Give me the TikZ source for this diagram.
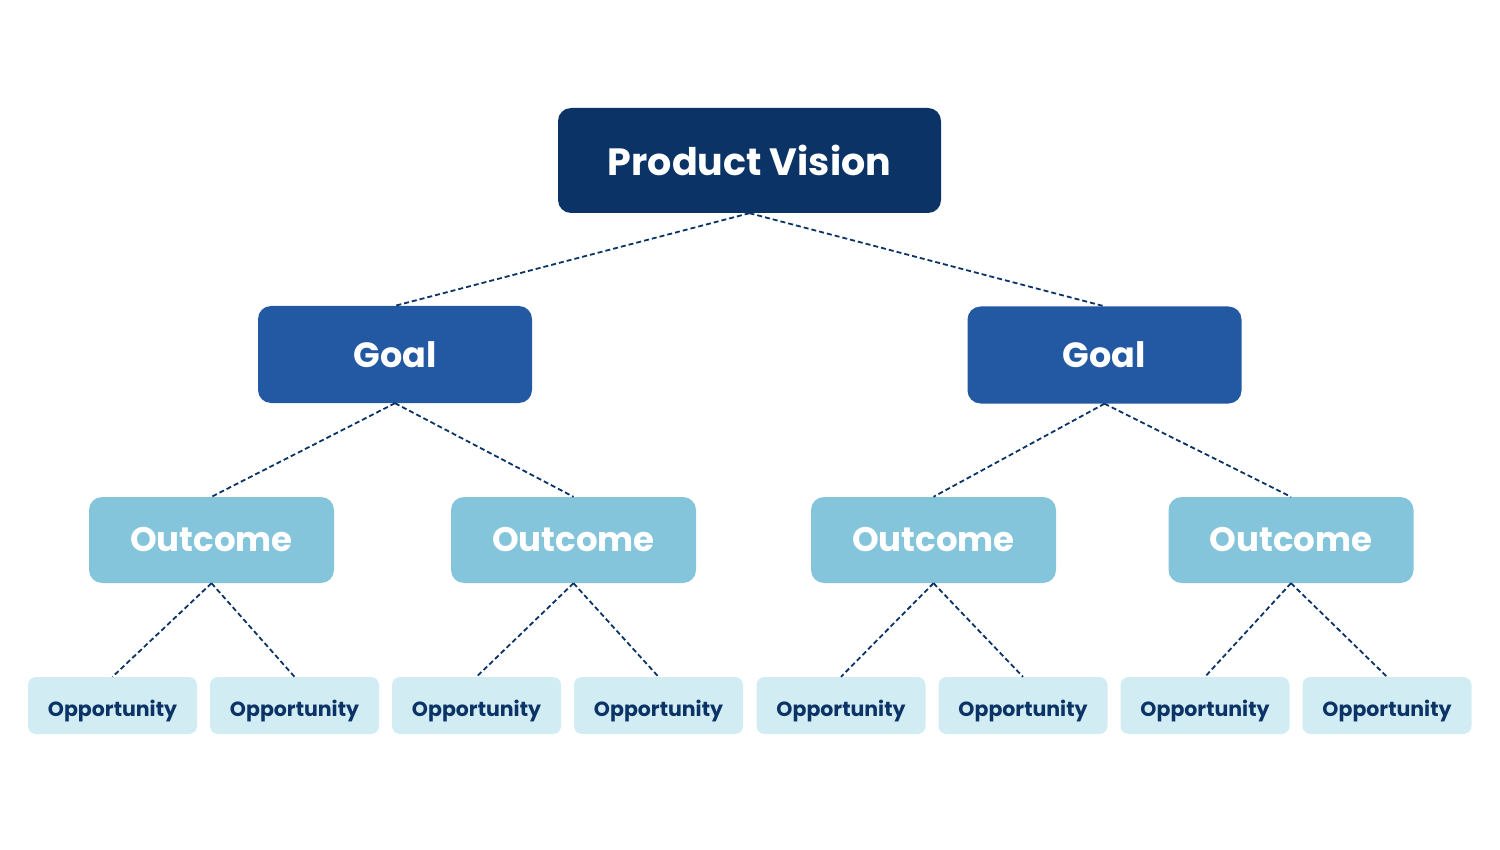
\documentclass[tikz,border=0pt]{standalone}
\usepackage{fontspec}
\setmainfont{Poppins}
\definecolor{navy}{HTML}{0B3366}
\definecolor{goalc}{HTML}{2358A3}
\definecolor{outc}{HTML}{84C5DC}
\definecolor{oppc}{HTML}{D2ECF4}
\begin{document}
\begin{tikzpicture}[x=1pt,y=-1pt,
  box/.style={rounded corners=13pt, inner sep=0pt, font=\bfseries},
  vis/.style={box, fill=navy, text=white, minimum width=383pt, minimum height=105pt, font=\fontsize{38}{40}\selectfont\bfseries},
  goalbox/.style={box, fill=goalc, text=white, minimum width=274pt, minimum height=97pt, font=\fontsize{35}{40}\selectfont\bfseries},
  outbox/.style={box, fill=outc, text=white, minimum width=245pt, minimum height=86pt, font=\fontsize{34}{40}\selectfont\bfseries},
  oppbox/.style={box, rounded corners=8pt, fill=oppc, text=navy, minimum width=169pt, minimum height=57pt, font=\fontsize{20.5}{22}\selectfont\bfseries},
  link/.style={draw=navy, line width=1.8pt, dash pattern=on 5pt off 3pt}
]
\path[use as bounding box] (0,0) rectangle (1500,850);
\node[vis] (pv) at (749.5,160.5) {Product Vision};
\node[goalbox] (g1) at (395,354.5) {Goal};
\node[goalbox] (g2) at (1104.5,355) {Goal};
\node[outbox] (o1) at (211.5,540) {Outcome};
\node[outbox] (o2) at (573.5,540) {Outcome};
\node[outbox] (o3) at (933.5,540) {Outcome};
\node[outbox] (o4) at (1291,540) {Outcome};
\foreach \n/\x in {1/112.5,2/294.5,3/476.5,4/658.5,5/841,6/1023,7/1205,8/1387}
  \node[oppbox] (p\n) at (\x,705.5) {\raisebox{-3pt}[\height][0pt]{Opportunity}};
\draw[link] (pv.south) -- (g1.north);
\draw[link] (pv.south) -- (g2.north);
\draw[link] (g1.south) -- (o1.north);
\draw[link] (g1.south) -- (o2.north);
\draw[link] (g2.south) -- (o3.north);
\draw[link] (g2.south) -- (o4.north);
\draw[link] (o1.south) -- (p1.north);
\draw[link] (o1.south) -- (p2.north);
\draw[link] (o2.south) -- (p3.north);
\draw[link] (o2.south) -- (p4.north);
\draw[link] (o3.south) -- (p5.north);
\draw[link] (o3.south) -- (p6.north);
\draw[link] (o4.south) -- (p7.north);
\draw[link] (o4.south) -- (p8.north);
\end{tikzpicture}
\end{document}
